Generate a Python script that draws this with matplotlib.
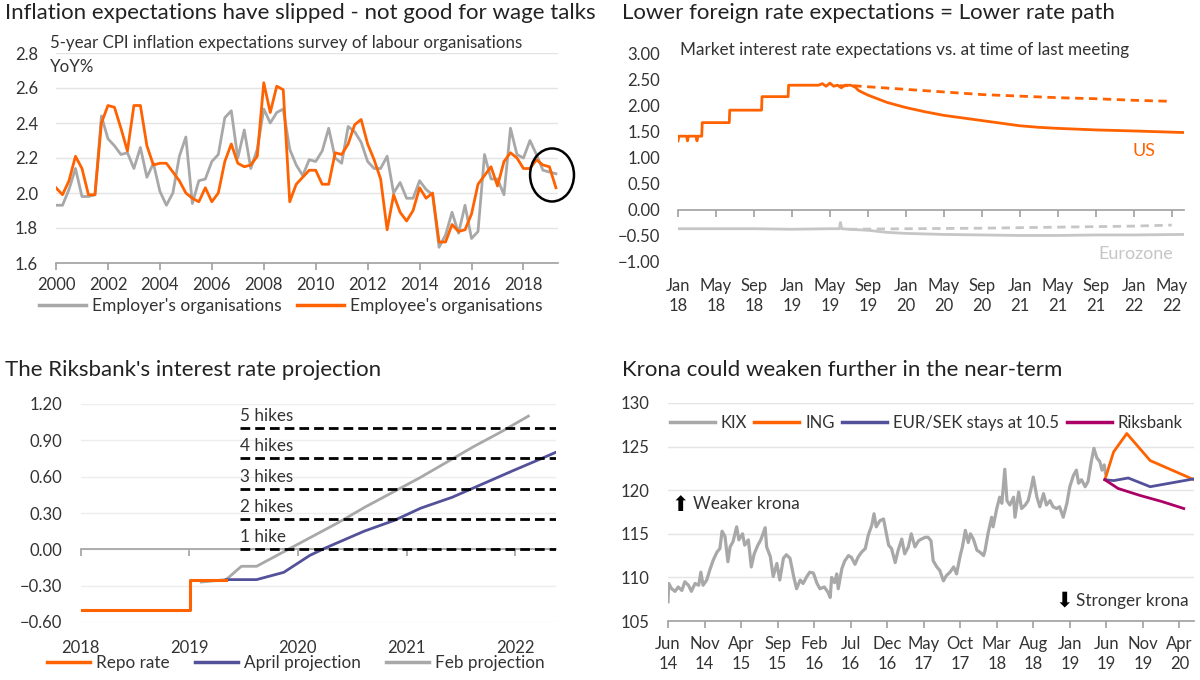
import matplotlib
matplotlib.use('Agg')
import matplotlib.pyplot as plt
from matplotlib.patches import Ellipse
from matplotlib.lines import Line2D
import numpy as np

plt.rcParams['font.family'] = ['Lato', 'DejaVu Sans']

ORANGE = '#FF6200'
GRAY = '#A8A8A8'
LGRAY = '#C6C6C6'
BLUE = '#525199'
MAGENTA = '#AB0066'
TXT = '#333333'
GRID = '#E4E4E4'
AXC = '#A0A0A0'

# ---------------- Panel 1: inflation expectations ----------------
p1_quarters = 2000 + 0.25 * np.arange(78)
employee = [2.03, 1.99, 2.07, 2.21, 2.14, 1.99, 1.99, 2.40, 2.50, 2.49,
            2.37, 2.24, 2.50, 2.50, 2.27, 2.16, 2.17, 2.17, 2.12, 2.07,
            2.00, 1.97, 1.95, 2.03, 1.95, 2.00, 2.18, 2.28, 2.17, 2.15,
            2.16, 2.21, 2.63, 2.46, 2.61, 2.59, 1.95, 2.05, 2.09, 2.13,
            2.13, 2.05, 2.05, 2.23, 2.22, 2.28, 2.39, 2.42, 2.28, 2.19,
            2.08, 1.79, 1.99, 1.89, 1.84, 1.90, 2.03, 1.97, 2.00, 1.72,
            1.72, 1.82, 1.78, 1.79, 1.88, 2.05, 2.10, 2.15, 2.04, 2.18,
            2.23, 2.20, 2.14, 2.14, 2.19, 2.16, 2.15, 2.03]
employer = [1.93, 1.93, 2.02, 2.14, 1.98, 1.98, 1.99, 2.44, 2.31, 2.27,
            2.22, 2.23, 2.14, 2.26, 2.09, 2.17, 2.01, 1.93, 2.00, 2.21,
            2.32, 1.94, 2.07, 2.08, 2.18, 2.22, 2.43, 2.47, 2.20, 2.36,
            2.14, 2.25, 2.48, 2.40, 2.46, 2.48, 2.25, 2.16, 2.10, 2.19,
            2.18, 2.24, 2.37, 2.20, 2.17, 2.38, 2.35, 2.29, 2.18, 2.14,
            2.14, 2.21, 2.00, 2.06, 1.97, 1.97, 2.07, 2.02, 1.99, 1.69,
            1.76, 1.89, 1.77, 1.93, 1.74, 1.78, 2.22, 2.08, 2.08, 1.99,
            2.37, 2.22, 2.20, 2.30, 2.22, 2.13, 2.12, 2.11]
p1_xticks = [2000, 2002, 2004, 2006, 2008, 2010, 2012, 2014, 2016, 2018]
p1_yticks = [1.6, 1.8, 2.0, 2.2, 2.4, 2.6, 2.8]

# ---------------- Panel 2: market rate expectations ----------------
us_x = [0, 0.1, 0.9, 1.0, 1.1, 1.9, 2.0, 2.1, 2.5, 2.55, 5.4, 5.45, 8.8, 8.85,
        11.6, 11.65, 14.8, 15.2, 15.6, 16.0, 16.4, 16.8, 17.2, 17.6, 18.2, 18.7,
        19.0, 20, 22, 24, 26, 28, 30, 32, 34, 36, 38, 40, 44, 48, 53.2]
us_y = [1.33, 1.42, 1.42, 1.33, 1.42, 1.42, 1.33, 1.42, 1.42, 1.68, 1.68, 1.92, 1.92, 2.18,
        2.18, 2.40, 2.40, 2.43, 2.38, 2.44, 2.38, 2.40, 2.35, 2.40, 2.40, 2.36,
        2.30, 2.21, 2.07, 1.97, 1.89, 1.82, 1.77, 1.72, 1.67, 1.62, 1.59, 1.57, 1.54, 1.52, 1.49]
us_last_x = [17.0, 18.5, 20, 24, 28, 32, 36, 40, 44, 48, 52]
us_last_y = [2.39, 2.39, 2.37, 2.32, 2.27, 2.22, 2.19, 2.16, 2.14, 2.11, 2.09]
ez_x = [0, 4, 8, 12, 16, 17.0, 17.1, 17.25, 18, 20, 22, 24, 26, 28, 32, 36, 40, 44, 48, 53.2]
ez_y = [-0.36, -0.36, -0.36, -0.37, -0.36, -0.36, -0.24, -0.36, -0.37, -0.39, -0.43,
        -0.45, -0.46, -0.47, -0.48, -0.49, -0.49, -0.48, -0.48, -0.47]
ez_last_x = [18, 24, 32, 40, 48, 52]
ez_last_y = [-0.37, -0.36, -0.35, -0.33, -0.31, -0.29]
p2_xticks = [0, 4, 8, 12, 16, 20, 24, 28, 32, 36, 40, 44, 48, 52]
p2_xlabels = ['Jan\n18', 'May\n18', 'Sep\n18', 'Jan\n19', 'May\n19', 'Sep\n19', 'Jan\n20',
              'May\n20', 'Sep\n20', 'Jan\n21', 'May\n21', 'Sep\n21', 'Jan\n22', 'May\n22']
p2_yticks = [-1.0, -0.5, 0.0, 0.5, 1.0, 1.5, 2.0, 2.5, 3.0]

# ---------------- Panel 3: Riksbank projection ----------------
repo_x = [2018.0, 2019.01, 2019.01, 2019.34]
repo_y = [-0.50, -0.50, -0.25, -0.25]
april_x = [2019.34, 2019.62, 2019.87, 2020.11, 2020.25, 2020.61, 2020.89, 2021.13,
           2021.42, 2021.70, 2021.98, 2022.19, 2022.37]
april_y = [-0.25, -0.25, -0.19, -0.05, 0.01, 0.15, 0.24, 0.34, 0.43, 0.54, 0.65, 0.73, 0.80]
feb_x = [2019.11, 2019.34, 2019.48, 2019.62, 2019.87, 2020.12, 2020.37, 2020.62,
         2020.87, 2021.12, 2021.37, 2021.62, 2021.87, 2022.12]
feb_y = [-0.27, -0.25, -0.14, -0.14, -0.02, 0.10, 0.22, 0.35, 0.47, 0.59, 0.72, 0.85, 0.97, 1.10]
hike_levels = [0.0, 0.25, 0.50, 0.75, 1.00]
hike_labels = ['1 hike', '2 hikes', '3 hikes', '4 hikes', '5 hikes']
p3_xticks = [2018, 2019, 2020, 2021, 2022]
p3_yticks = [-0.6, -0.3, 0.0, 0.3, 0.6, 0.9, 1.2]

# ---------------- Panel 4: krona (months since Jun 2014) ----------------
kix_x = [0.0, 0.1, 0.5, 0.96, 1.4, 1.9, 2.3, 2.8, 3.2, 3.7, 4.2, 4.5, 4.8, 5.3, 5.7,
         6.2, 6.7, 7.1, 7.4, 7.8, 8.2, 8.5, 8.9, 9.4, 9.7, 10.2, 10.5, 11.0, 11.4, 11.8,
         12.3, 12.7, 13.3, 13.5, 14.0, 14.4, 14.9, 15.3, 15.8, 16.2, 16.7, 17.2, 17.6,
         18.1, 18.5, 19.0, 19.4, 19.9, 20.4, 20.8, 21.4, 21.9, 22.2, 22.4, 22.8, 23.1,
         23.3, 23.8, 24.2, 24.7, 25.1, 25.6, 26.0, 26.5, 27.0, 27.4, 27.9, 28.2, 28.5,
         29.0, 29.5, 29.8, 30.2, 30.6, 31.1, 31.5, 32.0, 32.4, 32.9, 33.3, 33.8, 34.3,
         34.7, 35.2, 35.6, 36.0, 36.3, 36.8, 37.2, 37.7, 38.1, 38.6, 39.1, 39.5, 40.0,
         40.3, 40.7, 41.1, 41.4, 41.8, 42.3, 42.7, 43.2, 43.4, 43.8, 44.3, 44.5, 45.0,
         45.4, 45.7, 46.1, 46.4, 46.8, 47.3, 47.5, 48.0, 48.4, 48.9, 49.3, 49.7, 50.0,
         50.5, 50.9, 51.4, 51.8, 52.3, 52.7, 53.2, 53.6, 54.1, 54.6, 55.0, 55.5, 55.9,
         56.2, 56.6, 57.1, 57.5, 57.9, 58.3, 58.7, 59.1, 59.4, 59.7, 59.9]
kix_y = [107.2, 109.3, 108.7, 108.4, 108.9, 108.5, 109.5, 109.1, 108.4, 109.3, 109.1,
         110.6, 109.1, 109.7, 110.8, 112.0, 112.9, 113.3, 115.3, 114.7, 111.8, 113.5,
         114.1, 115.8, 114.3, 115.0, 113.7, 114.3, 111.2, 112.7, 113.7, 114.3, 115.7,
         113.5, 112.4, 110.1, 111.6, 109.7, 112.2, 112.6, 112.2, 110.1, 108.7, 109.7,
         109.3, 110.1, 110.6, 110.5, 109.3, 108.7, 108.9, 108.3, 107.7, 110.0, 109.4,
         110.4, 108.7, 111.0, 111.9, 112.5, 112.3, 111.5, 112.3, 112.9, 113.3, 114.8,
         116.0, 117.3, 115.8, 116.5, 116.7, 115.4, 113.7, 113.3, 111.7, 113.1, 114.4,
         112.7, 113.5, 115.0, 113.5, 114.2, 114.4, 114.6, 114.6, 114.2, 111.9, 111.2,
         110.8, 109.6, 110.2, 110.6, 111.2, 110.4, 112.5, 113.5, 115.4, 114.0, 115.0,
         114.4, 113.1, 112.9, 112.5, 113.1, 115.0, 116.9, 115.8, 117.9, 119.2, 118.5,
         122.4, 118.8, 118.3, 119.2, 116.9, 119.8, 117.9, 118.3, 118.8, 120.2, 121.5,
         119.2, 118.1, 119.6, 118.3, 118.8, 118.1, 117.9, 118.1, 116.9, 118.5, 120.4,
         121.7, 122.3, 120.8, 121.2, 120.4, 121.0, 123.1, 124.8, 123.7, 123.3, 122.3,
         122.9, 121.9]
ing_x = [59.8, 61.0, 62.8, 66.0, 72]
ing_y = [121.2, 124.4, 126.5, 123.4, 121.2]
eursek_x = [59.8, 61.0, 63.0, 66.0, 72]
eursek_y = [121.2, 121.1, 121.4, 120.4, 121.3]
riks_x = [59.8, 61.6, 64.6, 67.6, 70.6]
riks_y = [121.2, 120.2, 119.4, 118.7, 117.9]
p4_xticks = [0, 5, 10, 15, 20, 25, 30, 35, 40, 45, 50, 55, 60, 65, 70]
p4_xlabels = ['Jun\n14', 'Nov\n14', 'Apr\n15', 'Sep\n15', 'Feb\n16', 'Jul\n16', 'Dec\n16',
              'May\n17', 'Oct\n17', 'Mar\n18', 'Aug\n18', 'Jan\n19', 'Jun\n19', 'Nov\n19', 'Apr\n20']
p4_yticks = [105, 110, 115, 120, 125, 130]

# ================= figure =================
W, H = 1200, 680
fig = plt.figure(figsize=(12, 6.8), dpi=100)


def fx(px):
    return px / W


def fy(py):
    return 1 - py / H


TICK_FS = 12
TEXT_FS = 12.3


def style(ax):
    for s in ['left', 'right', 'top']:
        ax.spines[s].set_visible(False)
    ax.spines['bottom'].set_color(AXC)
    ax.spines['bottom'].set_linewidth(1.2)
    ax.tick_params(axis='y', length=0, pad=13, labelsize=TICK_FS, labelcolor=TXT)
    ax.tick_params(axis='x', length=5, width=1.2, color=AXC, direction='out',
                   labelsize=TICK_FS, labelcolor=TXT)


TITLE_KW = dict(fontsize=16, color='#222222', va='center', ha='left')
fig.text(fx(5), fy(13), 'Inflation expectations have slipped - not good for wage talks', **TITLE_KW)
fig.text(fx(622), fy(13), 'Lower foreign rate expectations = Lower rate path', **TITLE_KW)
fig.text(fx(5), fy(370), "The Riksbank's interest rate projection", **TITLE_KW)
fig.text(fx(622), fy(370), 'Krona could weaken further in the near-term', **TITLE_KW)

LEG_KW = dict(loc='center', frameon=False, labelcolor=TXT,
              borderaxespad=0, borderpad=0, handletextpad=0.35)

# ---- Panel 1 ----
ax1 = fig.add_axes([fx(56), fy(263), fx(502), 210 / H])
style(ax1)
ax1.plot(p1_quarters, employer, color=GRAY, lw=2, zorder=3)
ax1.plot(p1_quarters, employee, color=ORANGE, lw=2, zorder=4)
ax1.set_xlim(2000, 2019.33)
ax1.set_ylim(1.6, 2.8)
ax1.set_xticks(p1_xticks)
ax1.set_yticks(p1_yticks)
ax1.yaxis.set_major_formatter('{x:.1f}')
ax1.grid(axis='y', color=GRID, lw=1)
ax1.set_axisbelow(True)
ax1.tick_params(axis='x', pad=5)
ax1.add_patch(Ellipse((2019.1, 2.103), width=1.69, height=0.303, fill=False,
                      ec='black', lw=1.8, clip_on=False, zorder=6))
fig.text(fx(50), fy(43), '5-year CPI inflation expectations survey of labour organisations',
         fontsize=12.2, color=TXT, va='center', ha='left')
fig.text(fx(50), fy(67), 'YoY%', fontsize=12.2, color=TXT, va='center', ha='left')
h1 = [Line2D([], [], color=GRAY, lw=2.5), Line2D([], [], color=ORANGE, lw=2.5)]
fig.legend(h1, ["Employer's organisations", "Employee's organisations"],
           bbox_to_anchor=(fx(291), fy(306)), ncol=2, handlelength=2.7,
           columnspacing=0.9, fontsize=12.5, **LEG_KW)

# ---- Panel 2 ----
ax2 = fig.add_axes([fx(678), fy(262), fx(506), 208 / H])
style(ax2)
ax2.spines['bottom'].set_position(('data', 0))
ax2.plot(us_x, us_y, color=ORANGE, lw=2, zorder=4)
ax2.plot(us_last_x, us_last_y, color=ORANGE, lw=2, ls=(0, (3, 2)), zorder=4)
ax2.plot(ez_x, ez_y, color=LGRAY, lw=2, zorder=3)
ax2.plot(ez_last_x, ez_last_y, color=LGRAY, lw=2, ls=(0, (3, 2)), zorder=3)
ax2.set_xlim(0, 53.3)
ax2.set_ylim(-1.0, 3.0)
ax2.set_xticks(p2_xticks)
ax2.set_xticklabels(p2_xlabels)
ax2.set_yticks(p2_yticks)
ax2.yaxis.set_major_formatter('{x:.2f}')
ax2.tick_params(axis='x', pad=44)
for lab in ax2.get_xticklabels():
    lab.set_linespacing(1.3)
fig.text(fx(680), fy(50), 'Market interest rate expectations vs. at time of last meeting',
         fontsize=TEXT_FS, color=TXT, va='center', ha='left')
ax2.text(47.9, 1.14, 'US', color=ORANGE, fontsize=13, ha='left', va='center')
ax2.text(44.3, -0.85, 'Eurozone', color=LGRAY, fontsize=13, ha='left', va='center')

# ---- Panel 3 ----
ax3 = fig.add_axes([fx(80.5), fy(622), fx(475), 218 / H])
style(ax3)
ax3.spines['bottom'].set_position(('data', 0))
ax3.plot(feb_x, feb_y, color=GRAY, lw=2, zorder=3)
ax3.plot(april_x, april_y, color=BLUE, lw=2, zorder=4)
ax3.plot(repo_x, repo_y, color=ORANGE, lw=2.2, zorder=5)
for lev, lab in zip(hike_levels, hike_labels):
    ax3.hlines(lev, 2019.47, 2022.37, colors='black', lw=2, linestyles=(0, (3.5, 1.8)), zorder=6)
    ax3.text(2019.47, lev + 0.035, lab, fontsize=TEXT_FS, color=TXT, ha='left', va='bottom', zorder=7)
ax3.set_xlim(2018, 2022.37)
ax3.set_ylim(-0.6, 1.2)
ax3.set_xticks(p3_xticks)
ax3.set_yticks(p3_yticks)
ax3.yaxis.set_major_formatter('{x:.2f}')
ax3.grid(axis='y', color='#EDEDED', lw=1)
ax3.set_axisbelow(True)
ax3.tick_params(axis='x', pad=60)
h3 = [Line2D([], [], color=ORANGE, lw=2.5), Line2D([], [], color=BLUE, lw=2.5),
      Line2D([], [], color=GRAY, lw=2.5)]
fig.legend(h3, ['Repo rate', 'April projection', 'Feb projection'],
           bbox_to_anchor=(fx(296), fy(663)), ncol=3, handlelength=2.5,
           columnspacing=1.5, fontsize=12.3, **LEG_KW)

# ---- Panel 4 ----
ax4 = fig.add_axes([fx(668), fy(621), fx(526), 218 / H])
style(ax4)
ax4.plot(kix_x, kix_y, color=GRAY, lw=2.3, zorder=3)
ax4.plot(ing_x, ing_y, color=ORANGE, lw=2, zorder=4)
ax4.plot(eursek_x, eursek_y, color=BLUE, lw=2, zorder=4)
ax4.plot(riks_x, riks_y, color=MAGENTA, lw=2, zorder=4)
ax4.set_xlim(0, 72)
ax4.set_ylim(105, 130)
ax4.set_xticks(p4_xticks)
ax4.set_xticklabels(p4_xlabels)
ax4.set_yticks(p4_yticks)
ax4.grid(axis='y', color=GRID, lw=1)
ax4.set_axisbelow(True)
ax4.tick_params(axis='x', pad=6)
for lab in ax4.get_xticklabels():
    lab.set_linespacing(1.3)
h4 = [Line2D([], [], color=GRAY, lw=2.5), Line2D([], [], color=ORANGE, lw=2.5),
      Line2D([], [], color=BLUE, lw=2.5), Line2D([], [], color=MAGENTA, lw=2.5)]
fig.legend(h4, ['KIX', 'ING', 'EUR/SEK stays at 10.5', 'Riksbank'],
           bbox_to_anchor=(fx(926), fy(423)), ncol=4, handlelength=2.7,
           columnspacing=0.45, fontsize=12, **LEG_KW)
fig.text(fx(671), fy(505), '\u2B06', fontsize=15, color='black',
         va='center', ha='left', family=['DejaVu Sans'])
fig.text(fx(693), fy(504), 'Weaker krona', fontsize=TEXT_FS, color=TXT, va='center', ha='left')
fig.text(fx(1055), fy(600), '\u2B07', fontsize=15, color='black',
         va='center', ha='left', family=['DejaVu Sans'])
fig.text(fx(1076), fy(601), 'Stronger krona', fontsize=TEXT_FS, color=TXT, va='center', ha='left')

fig.savefig('out.png', dpi=100, facecolor='white')
